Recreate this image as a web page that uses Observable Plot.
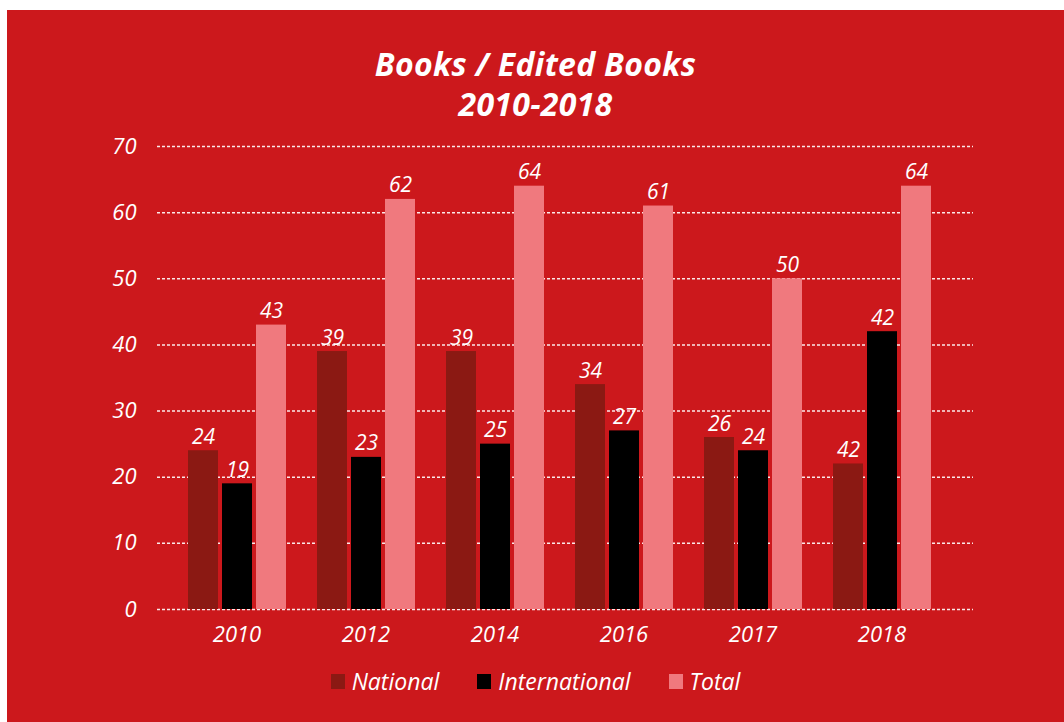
<!DOCTYPE html>
<html><head><meta charset="utf-8">
<script src="https://cdn.jsdelivr.net/npm/d3@7"></script>
<script src="https://cdn.jsdelivr.net/npm/@observablehq/plot@0.6"></script>
<style>
html,body{margin:0;padding:0;background:#fff;}
#card{position:absolute;left:7px;top:10px;width:1057px;height:712px;background:#CC181C;font-family:"Open Sans",sans-serif;color:#fff;overflow:hidden;}
#title{height:120px;box-sizing:border-box;padding-top:34px;text-align:center;font-weight:700;font-style:italic;font-size:32px;line-height:40px;letter-spacing:0.3px;}
#chart{position:relative;height:525px;}
#chart svg{display:block;position:absolute;left:0;top:0;}
#legend{margin-top:11px;display:flex;justify-content:center;align-items:center;font-style:italic;font-size:23px;line-height:30px;}
#legend .item{display:flex;align-items:center;margin:0 19px;}
#legend .sw{width:14px;height:15px;margin-right:7px;}
</style>
</head><body>
<div id="card">
  <div id="title">Books / Edited Books<br>2010-2018</div>
  <div id="chart"></div>
  <div id="legend"></div>
</div>
<script>
const years = ["2010","2012","2014","2016","2017","2018"];
const series = ["National","International","Total"];
const national = [24,39,39,34,26,22];
const nationalLabels = ["24","39","39","34","26","42"];
const international = [19,23,25,27,24,42];
const total = [43,62,64,61,50,64];
const yTicks = [0,10,20,30,40,50,60,70];
const colors = ["#8B1913","#000000","#F0797E"];

const rows = years.flatMap((year,i)=>[
  {year, series:"National", value: national[i], label: nationalLabels[i]},
  {year, series:"International", value: international[i], label: String(international[i])},
  {year, series:"Total", value: total[i], label: String(total[i])}
]);

const common = {
  width:1057, height:525, marginTop:16, marginBottom:46, marginLeft:150, marginRight:91,
  style:{background:"transparent", color:"#fff", fontFamily:"'Open Sans', sans-serif", fontStyle:"italic", fontSize:"22px", overflow:"visible"},
  y:{domain:[0,70]}
};

// Layer 1: dotted grid and y axis across the whole frame
const gridLayer = Plot.plot({
  ...common,
  marks:[
    Plot.ruleY(yTicks, {stroke:"#fff", strokeOpacity:0.9, strokeDasharray:"3,2", strokeWidth:1.5}),
    Plot.axisY(yTicks, {tickSize:0, tickPadding:21, label:null, fontSize:22})
  ]
});

// Layer 2: grouped bars, value labels and year axis
const barLayer = Plot.plot({
  ...common,
  y:{domain:[0,70], axis:null},
  fx:{domain:years, paddingInner:0, paddingOuter:0.14, align:0.35, label:null, axis:"bottom", tickSize:0, tickPadding:17},
  x:{domain:series, axis:null, paddingInner:0.13, paddingOuter:0.443},
  color:{domain:series, range:colors},
  marks:[
    Plot.barY(rows, {fx:"year", x:"series", y:"value", fill:"series"}),
    Plot.text(rows, {fx:"year", x:"series", y:"value", text:"label", dy:-7, lineAnchor:"bottom", fill:"#fff", fontSize:21})
  ]
});

const holder = document.getElementById("chart");
holder.appendChild(gridLayer);
holder.appendChild(barLayer);

const legend = document.getElementById("legend");
series.forEach((s,i)=>{
  const it = document.createElement("div"); it.className="item";
  const sw = document.createElement("div"); sw.className="sw"; sw.style.background=colors[i];
  const tx = document.createElement("span"); tx.textContent=s;
  it.appendChild(sw); it.appendChild(tx); legend.appendChild(it);
});
</script>
</body></html>
